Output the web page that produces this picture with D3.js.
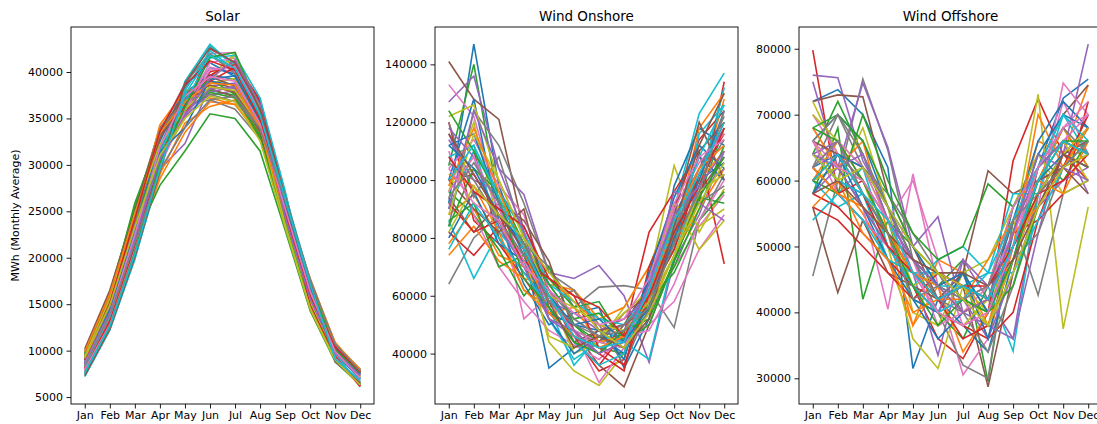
<!DOCTYPE html>
<html><head><meta charset="utf-8">
<script src="https://cdn.jsdelivr.net/npm/d3@7"></script>
<style>
body{margin:0;background:#fff;}
text{font-family:"DejaVu Sans",sans-serif;fill:#000;}
</style></head>
<body><svg id="c" width="1097" height="424"></svg>
<script>
const months = ["Jan","Feb","Mar","Apr","May","Jun","Jul","Aug","Sep","Oct","Nov","Dec"];
const titles = ["Solar","Wind Onshore","Wind Offshore"];
const yLabel = "MWh (Monthly Average)";
const solarTicks = [5000,10000,15000,20000,25000,30000,35000,40000];
const onshoreTicks = [40000,60000,80000,100000,120000,140000];
const offshoreTicks = [30000,40000,50000,60000,70000,80000];
const colors = ["#1f77b4","#ff7f0e","#2ca02c","#d62728","#9467bd","#8c564b","#e377c2","#7f7f7f","#bcbd22","#17becf"];

const solar = [
[8200,13500,21500,30500,36500,40500,39800,34800,25500,16200,9900,7100],
[9000,14800,23500,33500,37500,37200,36500,33000,24500,16800,10600,7700],
[9600,15800,25900,33000,36500,38000,37500,33500,24000,15000,9200,6500],
[8400,13200,22000,31000,36000,42500,41000,37000,27000,16500,9500,6200],
[7800,13000,21000,29500,32300,38500,38800,34500,25500,16500,10200,7500],
[10200,16500,25200,34000,37000,39000,38200,34000,24800,16000,10500,7900],
[7700,12500,20500,30000,35500,42000,42100,35500,26000,17000,10000,7700],
[9200,15500,24500,33800,38200,41800,40000,35000,25000,15800,10300,7600],
[8800,14200,22500,30500,35000,39500,42000,36000,24000,15500,9600,7300],
[7500,12300,20000,29000,39000,43000,40500,35500,26500,17500,8900,6600],
[8600,14000,22800,32000,37800,39700,39200,34200,25200,16300,9800,7000],
[8300,13800,21000,28500,33500,36800,36500,33500,26000,17800,10800,7800],
[9000,14500,22000,27800,31500,35500,35000,31500,23000,14300,8800,6300],
[8000,13000,20500,30000,36000,39600,41200,36800,26200,14500,9400,6100],
[8700,14200,22500,31500,36200,37500,38000,34000,25500,16200,10000,7400],
[9800,16000,24800,33200,37000,38200,37300,33200,24300,15800,10400,7800],
[8100,13300,21500,31000,36800,40500,40000,35000,25800,16800,10200,7600],
[9400,15200,23800,33000,36500,37000,36000,32800,24200,15700,10100,7500],
[8500,13800,22200,31200,35800,38800,39300,34600,24600,15400,9700,7200],
[7200,12200,19800,29500,38500,42800,40800,35800,26800,17600,8800,6500],
[8900,14700,23200,32500,38500,41000,39500,34800,25600,16400,9900,7000],
[9300,15200,24000,34300,38000,38500,37800,33800,25200,17200,10700,7800],
[9700,16200,25500,33500,37200,39200,37600,32800,23400,14600,8900,6400],
[8200,13400,21800,30800,36400,40000,40800,36500,26500,15000,9500,6300],
[8800,14400,22800,31800,35200,37800,38500,34400,25300,16000,9900,7300],
[10000,16300,25000,33600,37600,39500,38500,34300,24900,16100,10600,8000],
[7900,12900,21000,30500,36000,41000,41500,35300,25900,16900,10100,7700],
[9100,15000,24000,33400,38800,42000,39800,34700,24700,15600,10200,7600],
[8600,14000,22400,30900,35500,39000,41800,36200,24300,15300,9600,7200],
[7400,12400,20200,29800,38000,42300,40200,35200,26300,17300,9000,6700],
[8500,14100,22600,31600,37000,39000,38600,33800,25000,16100,9800,6900],
[8300,13600,21200,29000,34500,36300,37000,33300,25800,17500,10900,7700],
[9300,15000,23500,31500,35800,37800,37200,33200,23800,14800,9100,6400],
[8100,13100,21200,30300,35600,39000,40500,36700,26400,14800,9300,6200],
[8400,13700,22000,30800,35500,38200,38300,34100,25400,16300,10000,7400],
[9500,15500,24200,32800,37200,38600,37800,33600,24600,15900,10400,7900],
[8000,12800,20800,29800,35800,40200,40600,35600,26600,17000,9200,6600],
[9100,15000,23800,33800,37000,37600,36800,34000,24800,16600,10500,7600],
[9400,15600,24800,32200,36000,38400,38000,34200,23600,14500,8900,6400],
[8300,13700,22300,31400,36800,41500,41800,37200,27200,16000,9700,6300],
[8600,14300,22700,31400,34000,39200,39600,34800,25600,16700,10300,7500],
[9900,16100,24600,33400,36800,38800,38600,34000,24700,16200,10800,8000],
[7600,12600,20600,30200,36200,41600,42100,35800,26200,17200,10100,7600],
[9000,15100,24200,33600,38600,41200,40200,34900,24900,15900,10400,7700],
[8700,14100,22300,30600,35300,39300,41300,36500,24400,15600,9700,7300],
[7300,12300,20100,29300,38800,42600,41000,36000,26600,17400,8800,6500],
[8500,13900,22500,31900,37400,39500,39000,34400,25300,16400,9900,7000],
[8400,13900,21600,29400,34000,37000,37400,33900,26200,17700,10700,7800],
[9200,14900,23300,31000,35000,37400,36800,32600,23300,14600,9000,6300],
[7600,12600,20400,29600,37600,41800,40400,35400,26400,17200,9100,6800]
];

const onshore = [
[92000,147000,98000,76000,35000,42000,48000,45000,56000,82000,100000,106000],
[88000,95000,80000,62000,56000,62000,48000,52000,60000,76000,98000,128000],
[105000,140000,92000,70000,58000,50000,44000,42000,55000,80000,94000,118000],
[120000,86000,78000,66000,54000,46000,34000,38000,68000,82000,92000,134000],
[127000,136000,104000,95000,68000,66000,70500,60000,37000,72000,88000,110000],
[141000,128000,121000,82000,62000,48000,36000,28500,50000,72000,96000,108000],
[133000,122000,92000,52000,60000,48000,30000,42000,54000,70000,84000,95000],
[64000,80000,88000,78000,70000,56000,63000,63500,62000,49000,86000,102000],
[98000,104000,94000,78000,44000,34000,29000,40000,66000,105000,82000,97000],
[86000,66000,82000,74000,52000,38000,44000,48000,64000,90000,123000,137000],
[100000,128000,86000,64000,50000,54000,56000,35000,52000,98000,118000,112000],
[78000,90000,74000,70000,66000,58000,50000,46000,56000,74000,90000,104000],
[96000,88000,76000,60000,70000,50000,42000,40000,58000,68000,86000,96000],
[82000,74000,84000,70000,62000,44000,36000,47000,82000,96000,110000,71000],
[114000,100000,96000,84000,64000,52000,46000,44000,62000,88000,104000,118000],
[90000,110000,80000,68000,60000,46000,40000,50000,64000,82000,102000,120000],
[110000,88000,70000,58000,48000,43000,38000,46000,50000,58000,76000,88000],
[84000,124000,112000,92000,68000,62000,50000,36000,56000,84000,100000,114000],
[122000,126000,100000,80000,60000,40000,44000,56000,70000,92000,76000,86000],
[108000,112000,82000,72000,56000,36000,46000,44000,38000,74000,98000,132000],
[80000,96000,78000,72000,52000,40000,46000,40000,66000,86000,108000,100000],
[74000,84000,72000,66000,64000,62000,52000,56000,70000,80000,118000,130000],
[86000,92000,70000,74000,66000,56000,58000,44000,50000,72000,94000,92000],
[100000,102000,88000,70000,60000,48000,40000,34000,70000,90000,114000,124000],
[116000,96000,90000,76000,58000,54000,48000,52000,60000,86000,96000,104000],
[94000,82000,92000,86000,72000,48000,44000,54000,60000,78000,110000,120000],
[104000,114000,98000,88000,62000,46000,44000,46000,48000,64000,86000,100000],
[120000,94000,108000,80000,58000,62000,48000,42000,62000,84000,92000,98000],
[96000,120000,84000,74000,46000,42000,46000,54000,62000,92000,84000,90000],
[90000,110000,96000,82000,64000,58000,52000,50000,60000,76000,116000,126000],
[112000,116000,92000,74000,54000,50000,48000,38000,68000,94000,112000,104000],
[102000,98000,82000,62000,54000,56000,44000,46000,58000,80000,100000,110000],
[84000,104000,96000,78000,64000,52000,54000,46000,56000,70000,90000,112000],
[92000,82000,86000,72000,66000,60000,42000,36000,60000,76000,102000,116000],
[118000,108000,84000,70000,52000,46000,40000,48000,62000,96000,92000,86000],
[100000,90000,82000,90000,56000,44000,48000,50000,56000,88000,120000,100000],
[96000,108000,90000,72000,58000,48000,44000,42000,62000,90000,106000,116000],
[106000,100000,86000,74000,62000,52000,46000,50000,58000,82000,104000,122000],
[88000,116000,100000,80000,60000,56000,50000,48000,58000,74000,96000,102000],
[76000,92000,80000,68000,56000,44000,36000,40000,62000,84000,108000,126000],
[112000,104000,88000,78000,60000,50000,52000,44000,56000,80000,100000,124000],
[98000,118000,96000,76000,54000,46000,42000,46000,60000,86000,104000,112000],
[124000,110000,94000,66000,56000,44000,40000,48000,52000,72000,94000,108000],
[108000,96000,90000,84000,66000,60000,56000,46000,60000,82000,98000,118000],
[90000,124000,104000,82000,52000,48000,40000,44000,64000,88000,98000,110000],
[116000,102000,88000,76000,58000,42000,46000,42000,52000,84000,112000,130000],
[104000,92000,86000,70000,62000,54000,50000,52000,66000,92000,108000,114000],
[94000,106000,92000,78000,58000,50000,46000,48000,56000,78000,96000,124000],
[82000,98000,88000,80000,68000,58000,48000,42000,54000,74000,92000,106000],
[100000,112000,94000,76000,60000,46000,42000,44000,62000,86000,102000,120000]
];

const offshore = [
[72000,73800,70000,62000,31500,42000,46000,40000,56000,62000,72500,75400],
[64000,60000,55000,48000,38000,44000,46000,38000,52000,66000,64000,74500],
[58000,68000,42000,54000,50000,44000,48000,29500,54000,60000,68000,62000],
[79800,58000,54000,50000,44000,36000,33000,40000,63000,72400,64000,68000],
[76000,75600,63000,56000,46000,33500,48000,42000,36000,58000,64000,80700],
[72000,73000,72700,58000,50000,42000,44000,28700,46000,62000,70000,74500],
[68000,62000,56000,40500,61000,44000,30500,36000,50000,56000,74800,70000],
[45500,60000,75400,64600,48000,40000,32000,30000,54000,42600,58000,60000],
[72000,64000,60000,50000,36000,31500,44000,40000,52000,73100,37500,56000],
[60000,56000,58000,48000,46000,46000,42000,44000,34100,58000,64000,66000],
[66000,70000,66000,56000,48000,42000,38000,34000,48000,62000,66000,64000],
[60000,66000,60000,52000,38000,48000,46000,36000,50000,60000,68000,62000],
[64000,72000,64000,54000,42000,40000,36000,44000,56000,64000,60000,66000],
[58000,56000,52000,48000,44000,40000,38000,36000,40000,54000,58000,72000],
[75000,62000,74800,65000,50000,54500,40000,38000,36000,52000,66000,58000],
[56000,43000,54000,46000,44000,42000,46000,61500,58000,60000,62000,68000],
[70000,64000,60000,54000,60000,48000,38000,40000,48000,58000,72000,64000],
[62000,70000,62000,58000,52000,46000,40000,34000,44000,58000,62000,70000],
[66000,60000,68000,56000,40000,38000,46000,48000,56000,64000,58000,60000],
[54000,58000,62000,50000,44000,48000,50000,46000,58000,58000,70000,64000],
[62000,64000,56000,48000,42000,36000,40000,42000,54000,66000,72000,68000],
[68000,62000,66000,52000,46000,44000,34000,40000,50000,70000,62000,66000],
[60000,58000,70000,60000,52000,48000,50000,59500,56000,62000,66000,64000],
[56000,54000,50000,46000,42000,46000,44000,42000,52000,54000,64000,60000],
[64000,66000,58000,52000,48000,44000,42000,36000,46000,56000,60000,62000],
[60000,62000,56000,50000,46000,42000,44000,42000,50000,58000,64000,66000],
[66000,58000,54000,50000,48000,38000,40000,44000,56000,62000,68000,72000],
[58000,64000,60000,54000,48000,44000,46000,40000,48000,52000,62000,64000],
[70000,66000,62000,54000,44000,40000,38000,42000,50000,60000,66000,60000],
[62000,58000,54000,48000,46000,44000,44000,46000,46000,54000,62000,66000],
[64000,60000,58000,52000,42000,40000,46000,36000,52000,64000,70000,68000],
[56000,60000,52000,48000,40000,42000,42000,48000,54000,60000,58000,66000],
[68000,70000,66000,58000,50000,46000,42000,40000,44000,56000,64000,62000],
[62000,58000,60000,52000,46000,42000,36000,38000,48000,58000,62000,70000],
[58000,62000,56000,50000,44000,40000,48000,44000,52000,62000,66000,64000],
[66000,64000,62000,56000,48000,46000,44000,42000,50000,60000,62000,58000],
[62000,66000,62000,54000,46000,40000,42000,44000,52000,60000,66000,70000],
[66000,70000,64000,56000,48000,42000,40000,42000,50000,62000,68000,64000],
[60000,62000,60000,52000,44000,46000,44000,38000,48000,58000,64000,68000],
[64000,60000,58000,50000,44000,40000,42000,46000,54000,62000,70000,66000],
[58000,64000,62000,56000,50000,44000,46000,40000,50000,60000,64000,62000],
[62000,58000,56000,52000,46000,44000,40000,42000,52000,56000,62000,68000],
[68000,66000,60000,52000,44000,38000,42000,40000,48000,60000,66000,66000],
[60000,64000,58000,50000,46000,42000,44000,44000,50000,58000,60000,64000],
[64000,62000,64000,54000,48000,44000,40000,42000,52000,64000,62000,60000],
[58000,60000,56000,52000,48000,46000,46000,44000,48000,56000,64000,62000],
[66000,62000,60000,54000,46000,40000,38000,40000,50000,62000,68000,70000],
[62000,66000,58000,52000,42000,44000,42000,44000,54000,58000,62000,66000],
[64000,60000,62000,56000,50000,46000,42000,38000,46000,56000,62000,64000],
[60000,64000,58000,54000,46000,42000,44000,42000,50000,60000,66000,64000]
];

const panels = [
  {title: titles[0], data: solar, ticks: solarTicks, x0: 71},
  {title: titles[1], data: onshore, ticks: onshoreTicks, x0: 435},
  {title: titles[2], data: offshore, ticks: offshoreTicks, x0: 799}
];
const PW = 303, plotTop = 27, plotBottom = 404;
const svg = d3.select("#c");

panels.forEach((p, pi) => {
  const g = svg.append("g");
  const x = d3.scalePoint().domain(months).range([p.x0 + 0.55*PW/12.1, p.x0 + PW - 0.55*PW/12.1]);
  const all = p.data.flat();
  const mn = d3.min(all), mx = d3.max(all), pad = (mx - mn) * 0.05;
  const y = d3.scaleLinear().domain([mn - pad, mx + pad]).range([plotBottom, plotTop]);

  const clipId = "clip" + pi;
  svg.append("clipPath").attr("id", clipId).append("rect")
    .attr("x", p.x0).attr("y", plotTop).attr("width", PW).attr("height", plotBottom - plotTop);

  const line = d3.line().x((d, i) => x(months[i])).y(d => y(d));
  g.append("g").attr("clip-path", `url(#${clipId})`)
    .selectAll("path").data(p.data).join("path")
    .attr("d", line).attr("fill", "none")
    .attr("stroke", (d, i) => colors[i % 10])
    .attr("stroke-width", 1.6).attr("stroke-linejoin", "miter");

  const xa = g.append("g").attr("transform", `translate(0,${plotBottom})`)
    .call(d3.axisBottom(x).tickSizeInner(4.5).tickSizeOuter(0).tickPadding(3));
  xa.select(".domain").remove();
  xa.selectAll("text").attr("font-size", 11).attr("font-family", "DejaVu Sans").attr("fill", "#000");
  xa.selectAll("line").attr("stroke", "#000").attr("stroke-width", 0.9);

  const ya = g.append("g").attr("transform", `translate(${p.x0},0)`)
    .call(d3.axisLeft(y).tickValues(p.ticks).tickFormat(d3.format("d")).tickSizeInner(4.5).tickSizeOuter(0).tickPadding(3.5));
  ya.select(".domain").remove();
  ya.selectAll("text").attr("font-size", 11).attr("font-family", "DejaVu Sans").attr("fill", "#000");
  ya.selectAll("line").attr("stroke", "#000").attr("stroke-width", 0.9);

  g.append("rect").attr("x", p.x0).attr("y", plotTop).attr("width", PW).attr("height", plotBottom - plotTop)
    .attr("fill", "none").attr("stroke", "#000").attr("stroke-width", 0.9);

  g.append("text").attr("x", p.x0 + PW/2).attr("y", 21).attr("text-anchor", "middle")
    .attr("font-size", 13.5).text(p.title);
});

svg.append("text").attr("transform", "translate(19,215.5) rotate(-90)")
  .attr("text-anchor", "middle").attr("font-size", 11).text(yLabel);
</script></body></html>
